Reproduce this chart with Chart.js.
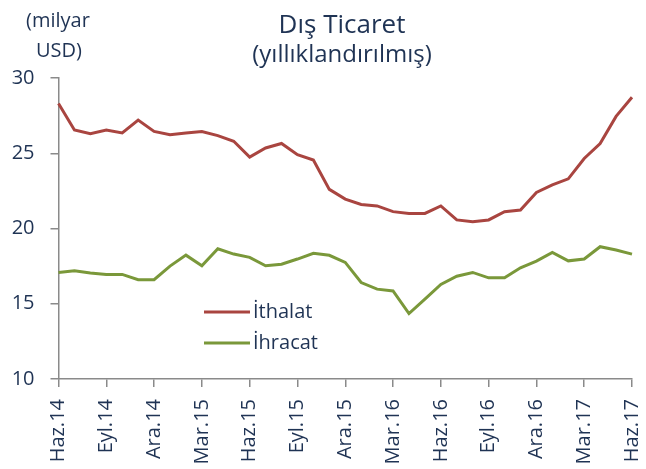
<!DOCTYPE html>
<html>
<head>
<meta charset="utf-8">
<script src="https://cdn.jsdelivr.net/npm/chart.js@4.4.0/dist/chart.umd.min.js"></script>
<style>
  html, body { margin: 0; padding: 0; background: #fff; }
  #wrap { width: 646px; height: 469px; }
</style>
</head>
<body>
<div id="wrap"><canvas id="trade" width="646" height="469"></canvas></div>
<script>
const months = [
  'Haz.14','Tem.14','Ağu.14','Eyl.14','Eki.14','Kas.14','Ara.14','Oca.15','Şub.15',
  'Mar.15','Nis.15','May.15','Haz.15','Tem.15','Ağu.15','Eyl.15','Eki.15','Kas.15',
  'Ara.15','Oca.16','Şub.16','Mar.16','Nis.16','May.16','Haz.16','Tem.16','Ağu.16',
  'Eyl.16','Eki.16','Kas.16','Ara.16','Oca.17','Şub.17','Mar.17','Nis.17','May.17','Haz.17'
];
const imports = [
  28.3, 26.55, 26.3, 26.55, 26.35, 27.2, 26.45, 26.23, 26.35, 26.45, 26.17, 25.8,
  24.75, 25.35, 25.65, 24.9, 24.55, 22.6, 21.95, 21.6, 21.5, 21.12, 21.0, 21.0,
  21.5, 20.57, 20.45, 20.57, 21.12, 21.23, 22.4, 22.9, 23.3, 24.65, 25.65, 27.45, 28.72
];
const exports = [
  17.08, 17.19, 17.05, 16.95, 16.95, 16.6, 16.6, 17.5, 18.23, 17.52, 18.65, 18.3,
  18.08, 17.52, 17.63, 17.97, 18.35, 18.22, 17.75, 16.41, 15.97, 15.85, 14.35, 15.3,
  16.28, 16.83, 17.08, 16.72, 16.72, 17.39, 17.83, 18.41, 17.85, 17.97, 18.79, 18.57, 18.3
];
const seriesNames = ['İthalat', 'İhracat'];
const yTicks = [10, 15, 20, 25, 30];

const textColor = '#1f3354';
const axisColor = '#8a8a8a';
const fontFamily = '"Open Sans", Lato, sans-serif';

// titles, unit label and the legend are drawn by hand
const decor = {
  id: 'decor',
  afterDraw(chart) {
    const ctx = chart.ctx;
    ctx.save();
    ctx.fillStyle = textColor;
    ctx.textAlign = 'center';
    ctx.textBaseline = 'alphabetic';
    ctx.font = '26px ' + fontFamily;
    ctx.fillText('Dış Ticaret', 342, 33);
    ctx.font = '24px ' + fontFamily;
    ctx.fillText('(yıllıklandırılmış)', 342, 62);
    ctx.font = '20px ' + fontFamily;
    ctx.fillText('(milyar', 58, 27);
    ctx.fillText('USD)', 59, 57);

    // legend inside the plot
    ctx.textAlign = 'left';
    ctx.textBaseline = 'middle';
    ctx.font = '20px ' + fontFamily;
    chart.data.datasets.forEach((ds, i) => {
      const y = 312 + i * 31;
      ctx.strokeStyle = ds.borderColor;
      ctx.lineWidth = 3;
      ctx.beginPath();
      ctx.moveTo(204, y);
      ctx.lineTo(250, y);
      ctx.stroke();
      ctx.fillStyle = textColor;
      ctx.fillText(ds.label, 253, y);
    });
    ctx.restore();
  }
};

new Chart(document.getElementById('trade'), {
  type: 'line',
  data: {
    labels: months,
    datasets: [
      {
        label: seriesNames[0],
        data: imports,
        borderColor: '#a94540',
        borderWidth: 3,
        pointRadius: 0,
        tension: 0
      },
      {
        label: seriesNames[1],
        data: exports,
        borderColor: '#7a983a',
        borderWidth: 3,
        pointRadius: 0,
        tension: 0
      }
    ]
  },
  options: {
    responsive: false,
    animation: false,
    layout: { padding: { top: 78, right: 14, bottom: 0, left: 0 } },
    plugins: {
      legend: { display: false },
      tooltip: { enabled: false }
    },
    scales: {
      x: {
        offset: false,
        afterFit(scale) {
          scale.height = 90;
          scale.paddingLeft = 0;
          scale.paddingRight = 0;
        },
        border: { color: axisColor, width: 1.5 },
        grid: { drawOnChartArea: false, tickLength: 8, color: axisColor, lineWidth: 1.5 },
        ticks: {
          autoSkip: false,
          maxRotation: 90,
          minRotation: 90,
          padding: 12,
          color: textColor,
          font: { family: fontFamily, size: 20 },
          callback: function (value, index) {
            return index % 3 === 0 ? this.getLabelForValue(value) : null;
          }
        }
      },
      y: {
        min: 10,
        max: 30,
        afterFit(scale) {
          scale.width = 58.5;
          scale.paddingTop = 0;
          scale.paddingBottom = 0;
        },
        afterBuildTicks(scale) { scale.ticks = yTicks.map(v => ({ value: v })); },
        border: { color: axisColor, width: 1.5 },
        grid: { drawOnChartArea: false, tickLength: 8, color: axisColor, lineWidth: 1.5 },
        ticks: {
          padding: 16,
          color: textColor,
          font: { family: fontFamily, size: 20 }
        }
      }
    }
  },
  plugins: [decor]
});
</script>
</body>
</html>
